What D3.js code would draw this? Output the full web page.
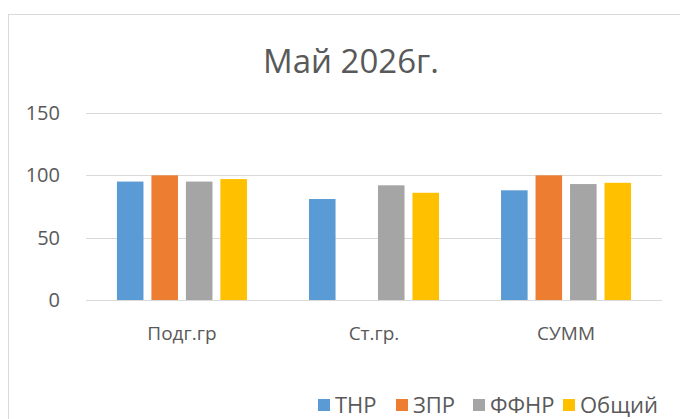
<!DOCTYPE html>
<html>
<head>
<meta charset="utf-8">
<script src="https://cdn.jsdelivr.net/npm/d3@7"></script>
<style>
  body { margin: 0; background: #fff; }
  text { font-family: "Open Sans", "Noto Sans", sans-serif; fill: #595959; }
</style>
</head>
<body>
<div id="container"></div>
<script>

const categories = ["Подг.гр", "Ст.гр.", "СУММ"];
const seriesNames = ["ТНР", "ЗПР", "ФФНР", "Общий"];
const seriesColors = ["#5B9BD5", "#ED7D31", "#A5A5A5", "#FFC000"];
// values per series, in category order
const tnr = [95, 81, 88];
const zpr = [100, 0, 100];
const ffnr = [95, 92, 93];
const total = [97, 86, 94];
const yTicks = [0, 50, 100, 150];

function main() {
    const width = 680, height = 419;
    const seriesValues = [tnr, zpr, ffnr, total];

    const svg = d3.select("#container")
        .append("svg")
        .attr("width", width)
        .attr("height", height);

    // chart frame
    svg.append("rect")
        .attr("x", 8.5).attr("y", 14.5)
        .attr("width", 700).attr("height", 500)
        .attr("fill", "none")
        .attr("stroke", "#D9D9D9");

    svg.append("text")
        .attr("x", 351).attr("y", 73)
        .attr("text-anchor", "middle")
        .style("font-size", "33px")
        .text("Май 2026г.");

    const x0 = d3.scaleBand()
        .domain(categories)
        .range([86, 662])
        .paddingInner(0.323)
        .paddingOuter(0.161);

    const x1 = d3.scaleBand()
        .domain(seriesNames)
        .range([0, x0.bandwidth()])
        .paddingInner(0.23);

    const y = d3.scaleLinear()
        .domain([0, 150])
        .range([300, 113]);

    // gridlines
    svg.append("g")
        .selectAll("line")
        .data(yTicks)
        .join("line")
        .attr("x1", 86).attr("x2", 662)
        .attr("y1", d => Math.round(y(d)) + 0.5)
        .attr("y2", d => Math.round(y(d)) + 0.5)
        .attr("stroke", "#D9D9D9")
        .attr("stroke-width", 1);

    svg.append("g")
        .selectAll("text")
        .data(yTicks)
        .join("text")
        .attr("x", 60)
        .attr("y", d => y(d))
        .attr("dy", "0.35em")
        .attr("text-anchor", "end")
        .style("font-size", "20px")
        .text(d => d);

    // bars
    const groups = svg.append("g")
        .selectAll("g")
        .data(categories)
        .join("g")
        .attr("transform", d => `translate(${x0(d)},0)`);

    groups.selectAll("rect")
        .data((c, ci) => seriesNames.map((s, si) => ({ s, si, v: seriesValues[si][ci] })))
        .join("rect")
        .attr("x", d => x1(d.s))
        .attr("width", x1.bandwidth())
        .attr("y", d => y(d.v))
        .attr("height", d => y(0) - y(d.v))
        .attr("fill", d => seriesColors[d.si]);

    svg.append("g")
        .selectAll("text")
        .data(categories)
        .join("text")
        .attr("x", d => x0(d) + x0.bandwidth() / 2)
        .attr("y", 340)
        .attr("text-anchor", "middle")
        .style("font-size", "19px")
        .text(d => d);

    // legend
    const legendX = [318, 396, 473, 563];
    const legend = svg.append("g")
        .selectAll("g")
        .data(seriesNames)
        .join("g")
        .attr("transform", (d, i) => `translate(${legendX[i]},399)`);

    legend.append("rect")
        .attr("width", 12).attr("height", 12)
        .attr("fill", (d, i) => seriesColors[i]);

    legend.append("text")
        .attr("x", 17).attr("y", 6)
        .attr("dy", "0.35em")
        .style("font-size", "22px")
        .text(d => d);
}

main();
</script>
</body>
</html>
